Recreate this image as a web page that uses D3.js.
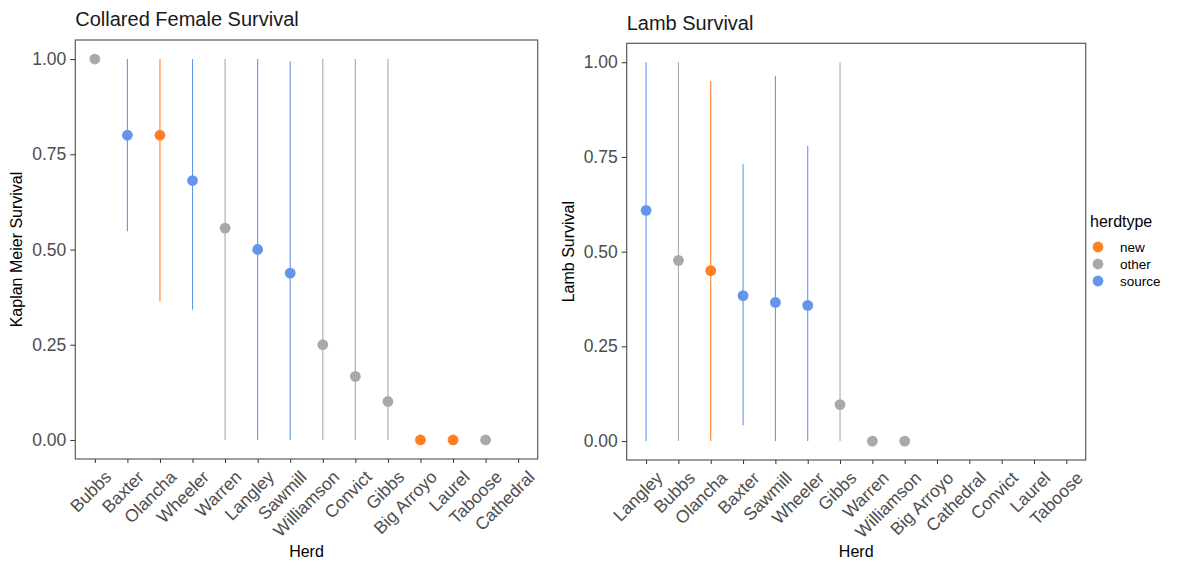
<!DOCTYPE html>
<html>
<head>
<meta charset="utf-8">
<script src="https://cdn.jsdelivr.net/npm/d3@7"></script>
<style>
  body { margin: 0; background: #fff; }
  svg { display: block; font-family: "Liberation Sans", Arial, sans-serif; }
</style>
</head>
<body>
<svg id="chart" width="1190" height="562"></svg>
<script>
// Collared female Kaplan-Meier survival by herd (estimate with 95% CI)
const femaleHerds = ["Bubbs", "Baxter", "Olancha", "Wheeler", "Warren", "Langley", "Sawmill",
  "Williamson", "Convict", "Gibbs", "Big Arroyo", "Laurel", "Taboose", "Cathedral"];
const femaleType = ["other", "source", "new", "source", "other", "source", "source",
  "other", "other", "other", "new", "new", "other", null];
const femaleEst = [1.0, 0.80, 0.80, 0.681, 0.556, 0.50, 0.438, 0.25, 0.167, 0.101, 0, 0, 0, null];
const femaleLo  = [null, 0.548, 0.364, 0.342, 0, 0, 0, 0, 0, 0, null, null, null, null];
const femaleHi  = [null, 1.0, 1.0, 1.0, 1.0, 1.0, 0.994, 1.0, 1.0, 1.0, null, null, null, null];

// Lamb survival by herd (estimate with 95% CI)
const lambHerds = ["Langley", "Bubbs", "Olancha", "Baxter", "Sawmill", "Wheeler", "Gibbs",
  "Warren", "Williamson", "Big Arroyo", "Cathedral", "Convict", "Laurel", "Taboose"];
const lambType = ["source", "other", "new", "source", "source", "source", "other",
  "other", "other", null, null, null, null, null];
const lambEst = [0.609, 0.477, 0.45, 0.384, 0.366, 0.358, 0.096, 0, 0, null, null, null, null, null];
const lambLo  = [0, 0, 0, 0.042, 0, 0, 0, null, null, null, null, null, null, null];
const lambHi  = [1.0, 1.0, 0.95, 0.731, 0.964, 0.779, 1.0, null, null, null, null, null, null, null];

const yTicks = [0, 0.25, 0.5, 0.75, 1.0];
const herdTypes = ["new", "other", "source"];
const typeColors = ["#FF7F24", "#A9A9A9", "#6495ED"];

const color = d3.scaleOrdinal().domain(herdTypes).range(typeColors);
const svg = d3.select("#chart");
const FONT = "Liberation Sans, Arial, sans-serif";

function panel(cfg) {
  const { herds, types, est, lo, hi, left, right, top, bottom, title, yTitle, yTitleX } = cfg;
  const rows = herds.map((h, i) => ({ herd: h, type: types[i], est: est[i], lo: lo[i], hi: hi[i] }));

  const x = d3.scalePoint().domain(herds).range([left, right]).padding(0.6);
  const y = d3.scaleLinear().domain([-0.05, 1.05]).range([bottom, top]);

  const g = svg.append("g");

  // CI ranges
  g.selectAll("line.ci")
    .data(rows.filter(d => d.lo != null && d.hi != null))
    .join("line")
    .attr("class", "ci")
    .attr("x1", d => x(d.herd)).attr("x2", d => x(d.herd))
    .attr("y1", d => y(d.lo)).attr("y2", d => y(d.hi))
    .attr("stroke", d => color(d.type))
    .attr("stroke-width", 1.1);

  // point estimates
  g.selectAll("circle.est")
    .data(rows.filter(d => d.est != null))
    .join("circle")
    .attr("class", "est")
    .attr("cx", d => x(d.herd)).attr("cy", d => y(d.est))
    .attr("r", 5.4)
    .attr("fill", d => color(d.type));

  // panel border
  g.append("rect")
    .attr("x", left).attr("y", top)
    .attr("width", right - left).attr("height", bottom - top)
    .attr("fill", "none").attr("stroke", "#5a5a5a").attr("stroke-width", 1.2);

  // y axis
  const yAxis = g.append("g")
    .attr("transform", `translate(${left},0)`)
    .call(d3.axisLeft(y).tickValues(yTicks).tickFormat(d3.format(".2f")).tickSize(5).tickPadding(4));
  yAxis.select(".domain").remove();
  yAxis.selectAll(".tick line").attr("stroke", "#333");
  yAxis.selectAll(".tick text").attr("fill", "#4D4D4D").attr("font-size", 17.5)
    .attr("font-family", FONT);

  // x axis
  const xAxis = g.append("g")
    .attr("transform", `translate(0,${bottom})`)
    .call(d3.axisBottom(x).tickSize(4).tickPadding(2));
  xAxis.select(".domain").remove();
  xAxis.selectAll(".tick line").attr("stroke", "#333");
  xAxis.selectAll(".tick text")
    .attr("fill", "#4D4D4D").attr("font-size", 17.5)
    .attr("font-family", FONT)
    .attr("text-anchor", "end")
    .attr("dy", "0.72em")
    .attr("transform", "translate(4,6) rotate(-45)");

  // titles
  g.append("text").attr("x", left).attr("y", cfg.titleY)
    .attr("font-size", 20).attr("fill", "#1a1a1a").text(title);
  g.append("text")
    .attr("x", (left + right) / 2).attr("y", 557)
    .attr("text-anchor", "middle").attr("font-size", 16).attr("fill", "#000").text("Herd");
  g.append("text")
    .attr("transform", `translate(${yTitleX},${(top + bottom) / 2}) rotate(-90)`)
    .attr("text-anchor", "middle").attr("font-size", 16).attr("fill", "#000").text(yTitle);
}

panel({ herds: femaleHerds, types: femaleType, est: femaleEst, lo: femaleLo, hi: femaleHi,
  left: 75.3, right: 537.7, top: 40, bottom: 459, titleY: 26,
  title: "Collared Female Survival", yTitle: "Kaplan Meier Survival", yTitleX: 22 });

panel({ herds: lambHerds, types: lambType, est: lambEst, lo: lambLo, hi: lambHi,
  left: 626.7, right: 1085.7, top: 43.3, bottom: 460, titleY: 30,
  title: "Lamb Survival", yTitle: "Lamb Survival", yTitleX: 574 });

// legend
const legend = svg.append("g").attr("transform", "translate(1090,0)");
legend.append("text").attr("x", 0).attr("y", 227)
  .attr("font-size", 16).attr("fill", "#000").text("herdtype");
herdTypes.forEach((t, i) => {
  const cy = 247 + i * 17;
  legend.append("circle").attr("cx", 8).attr("cy", cy).attr("r", 5.4).attr("fill", color(t));
  legend.append("text").attr("x", 30).attr("y", cy + 4.5)
    .attr("font-size", 13.5).attr("fill", "#000").text(t);
});
</script>
</body>
</html>
